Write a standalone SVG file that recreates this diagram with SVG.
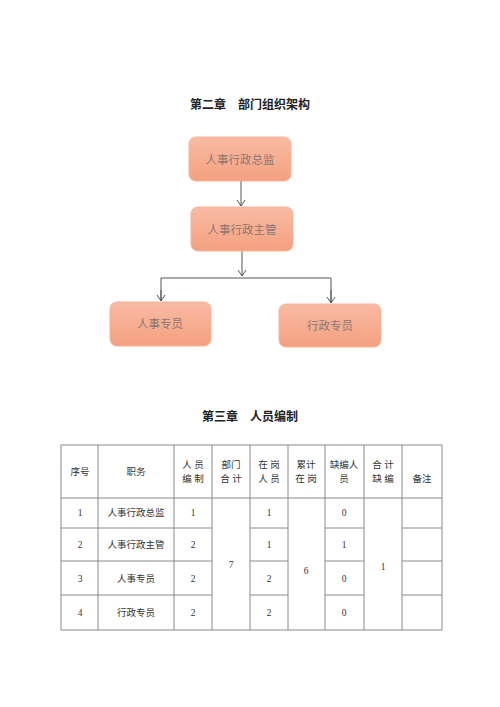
<svg xmlns="http://www.w3.org/2000/svg" width="500" height="707" viewBox="0 0 500 707">
<style>
.title{font-family:"Noto Sans CJK SC","Liberation Sans",sans-serif;font-size:12px;font-weight:bold;fill:#222;text-anchor:middle}
.box{fill:url(#g);stroke:#f5b49a;stroke-width:1}
.bt{font-family:"Noto Sans CJK SC","Liberation Sans",sans-serif;font-size:11.5px;fill:#8a7670;text-anchor:middle;dominant-baseline:central}
.conn{fill:none;stroke:#555;stroke-width:1}
.grid{stroke:#8a8a8a;stroke-width:1;fill:none}
.tt{font-family:"Liberation Serif","Noto Sans CJK SC",serif;font-size:9.5px;fill:#333;text-anchor:middle;dominant-baseline:central}
</style>
<defs>
<linearGradient id="g" x1="0" y1="0" x2="0" y2="1">
<stop offset="0" stop-color="#f9bba3"/>
<stop offset="1" stop-color="#f4a080"/>
</linearGradient>
<marker id="ar" markerWidth="10" markerHeight="10" refX="8" refY="5" orient="auto" markerUnits="userSpaceOnUse" viewBox="0 0 10 10">
<path d="M2,1 L8,5 L2,9" fill="none" stroke="#555" stroke-width="1"/>
</marker>
</defs>
<rect width="500" height="707" fill="#fff"/>
<text class="title" x="250" y="109">第二章　部门组织架构</text>

<g id="connectors">
<line class="conn" x1="241" y1="181" x2="241" y2="206" marker-end="url(#ar)"/>
<line class="conn" x1="242" y1="251" x2="242" y2="276" marker-end="url(#ar)"/>
<polyline class="conn" points="161,301 161,278 331,278 331,302"/>
<line class="conn" x1="161" y1="290" x2="161" y2="301" marker-end="url(#ar)"/>
<line class="conn" x1="331" y1="290" x2="331" y2="303" marker-end="url(#ar)"/>
</g>

<g id="n1"><rect class="box" x="189" y="137" width="102" height="44" rx="7"/><text class="bt" x="240" y="159">人事行政总监</text></g>
<g id="n2"><rect class="box" x="191" y="207" width="102" height="44" rx="7"/><text class="bt" x="242" y="229">人事行政主管</text></g>
<g id="n3"><rect class="box" x="110" y="302" width="101" height="44" rx="7"/><text class="bt" x="160" y="323">人事专员</text></g>
<g id="n4"><rect class="box" x="279" y="304" width="102" height="43" rx="7"/><text class="bt" x="330" y="325">行政专员</text></g>

<text class="title" x="250" y="421">第三章　人员编制</text>

<g id="table">
<rect class="grid" x="61" y="445" width="381" height="185"/>
<line class="grid" x1="98" y1="445" x2="98" y2="630"/>
<line class="grid" x1="174" y1="445" x2="174" y2="630"/>
<line class="grid" x1="212" y1="445" x2="212" y2="630"/>
<line class="grid" x1="250" y1="445" x2="250" y2="630"/>
<line class="grid" x1="288" y1="445" x2="288" y2="630"/>
<line class="grid" x1="325" y1="445" x2="325" y2="630"/>
<line class="grid" x1="364" y1="445" x2="364" y2="630"/>
<line class="grid" x1="402" y1="445" x2="402" y2="630"/>
<line class="grid" x1="61" y1="498" x2="442" y2="498"/>
<line class="grid" x1="61" y1="528" x2="212" y2="528"/>
<line class="grid" x1="250" y1="528" x2="288" y2="528"/>
<line class="grid" x1="325" y1="528" x2="364" y2="528"/>
<line class="grid" x1="402" y1="528" x2="442" y2="528"/>
<line class="grid" x1="61" y1="561" x2="212" y2="561"/>
<line class="grid" x1="250" y1="561" x2="288" y2="561"/>
<line class="grid" x1="325" y1="561" x2="364" y2="561"/>
<line class="grid" x1="402" y1="561" x2="442" y2="561"/>
<line class="grid" x1="61" y1="595" x2="212" y2="595"/>
<line class="grid" x1="250" y1="595" x2="288" y2="595"/>
<line class="grid" x1="325" y1="595" x2="364" y2="595"/>
<line class="grid" x1="402" y1="595" x2="442" y2="595"/>

<text class="tt" x="80" y="472">序号</text>
<text class="tt" x="136" y="472">职务</text>
<text class="tt" x="193" y="465">人 员</text>
<text class="tt" x="193" y="479">编 制</text>
<text class="tt" x="231" y="465">部门</text>
<text class="tt" x="231" y="479">合 计</text>
<text class="tt" x="269" y="465">在 岗</text>
<text class="tt" x="269" y="479">人 员</text>
<text class="tt" x="306" y="465">累计</text>
<text class="tt" x="306" y="479">在 岗</text>
<text class="tt" x="344" y="465">缺编人</text>
<text class="tt" x="344" y="479">员</text>
<text class="tt" x="383" y="465">合 计</text>
<text class="tt" x="383" y="479">缺 编</text>
<text class="tt" x="422" y="479">备注</text>

<text class="tt" x="80" y="513">1</text>
<text class="tt" x="136" y="513">人事行政总监</text>
<text class="tt" x="193" y="513">1</text>
<text class="tt" x="269" y="513">1</text>
<text class="tt" x="344" y="513">0</text>

<text class="tt" x="80" y="545">2</text>
<text class="tt" x="136" y="545">人事行政主管</text>
<text class="tt" x="193" y="545">2</text>
<text class="tt" x="269" y="545">1</text>
<text class="tt" x="344" y="545">1</text>

<text class="tt" x="80" y="579">3</text>
<text class="tt" x="136" y="579">人事专员</text>
<text class="tt" x="193" y="579">2</text>
<text class="tt" x="269" y="579">2</text>
<text class="tt" x="344" y="579">0</text>

<text class="tt" x="80" y="613">4</text>
<text class="tt" x="136" y="613">行政专员</text>
<text class="tt" x="193" y="613">2</text>
<text class="tt" x="269" y="613">2</text>
<text class="tt" x="344" y="613">0</text>

<text class="tt" x="231" y="565">7</text>
<text class="tt" x="306" y="571">6</text>
<text class="tt" x="383" y="567">1</text>
</g>
</svg>
